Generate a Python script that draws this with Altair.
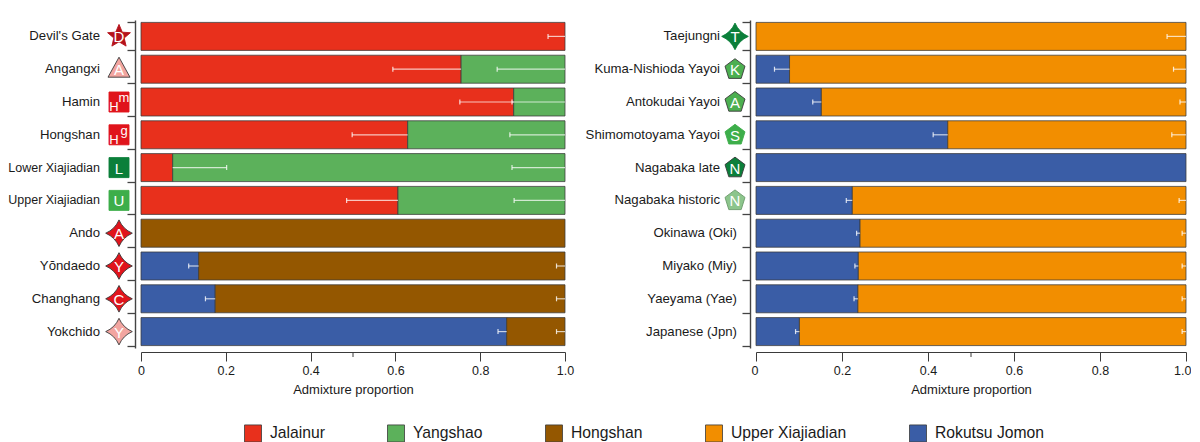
import altair as alt
import pandas as pd

FONT = "Liberation Sans"
DARK = "#3a3a3a"
INK = "#1a1a1a"

components = ["Jalainur", "Yangshao", "Hongshan", "Upper Xiajiadian", "Rokutsu Jomon"]
comp_colors = ["#E8301C", "#5CB15B", "#945700", "#F28E00", "#3A5DA6"]

# ---- left panel
left_names = ["Devil's Gate", "Angangxi", "Hamin", "Hongshan", "Lower Xiajiadian",
              "Upper Xiajiadian", "Ando", "Yŏndaedo", "Changhang", "Yokchido"]
left_jalainur = [1.0, 0.755, 0.879, 0.629, 0.0747, 0.606, 0, 0, 0, 0]
left_yangshao = [0, 0.245, 0.121, 0.371, 0.9253, 0.394, 0, 0, 0, 0]
left_jomon = [0, 0, 0, 0, 0, 0, 0, 0.136, 0.175, 0.8625]
left_hongshan = [0, 0, 0, 0, 0, 0, 1.0, 0.864, 0.825, 0.1375]
left_err_name = ["Devil's Gate", "Angangxi", "Angangxi", "Hamin", "Hamin", "Hongshan", "Hongshan",
                 "Lower Xiajiadian", "Lower Xiajiadian", "Upper Xiajiadian", "Upper Xiajiadian",
                 "Yŏndaedo", "Yŏndaedo", "Changhang", "Changhang", "Yokchido", "Yokchido"]
left_err_lo = [0.96, 0.594, 0.84, 0.752, 0.875, 0.498, 0.87, 0.0747, 0.875, 0.485, 0.88,
               0.1125, 0.98, 0.152, 0.98, 0.842, 0.98]
left_err_hi = [1.0, 0.755, 1.0, 0.879, 1.0, 0.629, 1.0, 0.202, 1.0, 0.606, 1.0,
               0.136, 1.0, 0.175, 1.0, 0.8625, 1.0]
left_err_cap = [0.96, 0.594, 0.84, 0.752, 0.875, 0.498, 0.87, 0.202, 0.875, 0.485, 0.88,
                0.1125, 0.98, 0.152, 0.98, 0.842, 0.98]

# ---- right panel
right_names = ["Taejungni", "Kuma-Nishioda Yayoi", "Antokudai Yayoi", "Shimomotoyama Yayoi",
               "Nagabaka late", "Nagabaka historic", "Okinawa (Oki)", "Miyako (Miy)",
               "Yaeyama (Yae)", "Japanese (Jpn)"]
right_jomon = [0, 0.078, 0.152, 0.446, 1.0, 0.224, 0.242, 0.238, 0.237, 0.101]
right_upper = [1.0, 0.922, 0.848, 0.554, 0, 0.776, 0.758, 0.762, 0.763, 0.899]
right_err_name = ["Taejungni", "Kuma-Nishioda Yayoi", "Kuma-Nishioda Yayoi", "Antokudai Yayoi",
                  "Antokudai Yayoi", "Shimomotoyama Yayoi", "Shimomotoyama Yayoi",
                  "Nagabaka historic", "Nagabaka historic", "Okinawa (Oki)", "Okinawa (Oki)",
                  "Miyako (Miy)", "Miyako (Miy)", "Yaeyama (Yae)", "Yaeyama (Yae)",
                  "Japanese (Jpn)", "Japanese (Jpn)"]
right_err_lo = [0.956, 0.043, 0.971, 0.132, 0.986, 0.412, 0.967, 0.21, 0.984, 0.234, 0.991,
                0.23, 0.991, 0.228, 0.991, 0.092, 0.991]
right_err_hi = [1.0, 0.078, 1.0, 0.152, 1.0, 0.446, 1.0, 0.224, 1.0, 0.242, 1.0,
                0.238, 1.0, 0.237, 1.0, 0.101, 1.0]

x_ticks = [0, 0.2, 0.4, 0.6, 0.8, 1.0]
x_minor = [0.5]

# ---- icon shapes
STAR5 = "M0,-1.2L.33,-.42L1.14,-.37L.52,.16L.71,.97L0,.54L-.71,.97L-.52,.16L-1.14,-.37L-.33,-.42Z"
STAR4 = "M0,-1.33Q.4,-.4,1.33,0Q.4,.4,0,1.33Q-.4,.4,-1.33,0Q-.4,-.4,0,-1.33Z"
TRI = "M0,-1.2L1.1,.8L-1.1,.8Z"
PENT = "M0,-1.05L1,-.3L.62,.92L-.62,.92L-1,-.3Z"
SQ = "M-1,-1L1,-1L1,1L-1,1Z"

RED, PALE, DGREEN, MGREEN, PGREEN = "#E0141C", "#F2A5A0", "#0B7F3A", "#3DAE4A", "#8CC58C"
left_icon_name = left_names
left_icon_shape = [STAR5, TRI, SQ, SQ, SQ, SQ, STAR4, STAR4, STAR4, STAR4]
left_icon_fill = ["#B5121B", PALE, RED, RED, DGREEN, MGREEN, RED, RED, RED, PALE]
left_icon_stroke = ["#B5121B", DARK, RED, RED, DGREEN, MGREEN, DARK, DARK, DARK, DARK]
left_icon_letter = ["D", "A", "", "", "L", "U", "A", "Y", "C", "Y"]
right_icon_name = right_names[:6]
right_icon_shape = [STAR4, PENT, PENT, PENT, PENT, PENT]
right_icon_fill = [DGREEN, "#4CAF50", "#4CAF50", MGREEN, DGREEN, PGREEN]
right_icon_stroke = [DGREEN, DARK, DARK, MGREEN, DARK, "#6a9a6a"]
right_icon_letter = ["T", "K", "A", "S", "N", "N"]
super_name = ["Hamin", "Hongshan"]
super_letter = ["m", "g"]


def segments(names, ordered):
    rows = []
    for i, n in enumerate(names):
        pos = 0.0
        for comp, vals in ordered:
            v = vals[i]
            if v > 0:
                rows.append({"name": n, "comp": comp, "start": pos, "end": min(pos + v, 1.0)})
                pos += v
    return pd.DataFrame(rows)


def panel(names, segs, err_name, err_lo, err_hi, err_cap, icons, label_layers, icon_x, flush):
    yaxis = alt.Axis(labels=False, tickBand="extent", offset=6, tickSize=8, tickColor="#444",
                     domainColor="#444", domainWidth=1.4, tickWidth=1.3, grid=False)
    yenc = alt.Y("name:N", sort=names, title=None, axis=yaxis,
                 scale=alt.Scale(domain=names, paddingInner=0.146, paddingOuter=0.073))
    xscale = alt.Scale(domain=[0, 1], nice=False)
    bars = alt.Chart(segs).mark_bar(stroke=DARK, strokeWidth=0.9, strokeOpacity=0.85).encode(
        x=alt.X("start:Q", scale=xscale, title="Admixture proportion",
                axis=alt.Axis(values=x_ticks, grid=False, offset=4, tickSize=9, tickColor=DARK,
                              domainColor=DARK, labelFont=FONT, labelFontSize=12.5, labelColor=INK,
                              labelFlush=flush, labelFlushOffset=5,
                              labelExpr="datum.value === 0 ? '0' : format(datum.value, '.1f')",
                              titleFont=FONT, titleFontSize=13, titleFontWeight="normal",
                              titleColor=INK, titlePadding=7, labelPadding=3)),
        x2="end:Q",
        y=yenc,
        color=alt.Color("comp:N", scale=alt.Scale(domain=components, range=comp_colors),
                        legend=alt.Legend(orient="none", legendX=103, legendY=404, direction="horizontal",
                                          columns=5, title=None, symbolType="square", symbolSize=289,
                                          symbolStrokeColor=DARK, symbolStrokeWidth=0.8, symbolOpacity=1,
                                          labelFont=FONT, labelFontSize=15.7, labelColor=INK,
                                          labelOffset=8, columnPadding=60, padding=0)),
    )
    err = pd.DataFrame({"name": err_name, "lo": err_lo, "hi": err_hi, "cap": err_cap})
    lines = alt.Chart(err).mark_rule(color="white", strokeWidth=1.2, opacity=0.72).encode(
        x=alt.X("lo:Q", scale=xscale), x2="hi:Q", y=yenc)
    caps = alt.Chart(err).mark_tick(color="white", thickness=1.2, size=5, opacity=0.8).encode(
        x=alt.X("cap:Q", scale=xscale), y=yenc)
    minor = alt.Chart(pd.DataFrame({"v": x_minor})).mark_rule(color=DARK, strokeWidth=1).encode(
        x=alt.X("v:Q", scale=xscale), y=alt.value(332), y2=alt.value(337))
    marks = alt.Chart(icons).mark_point(filled=True, size=400, opacity=1, strokeWidth=0.9).encode(
        x=alt.value(icon_x), y=yenc,
        shape=alt.Shape("shape:N", scale=None, legend=None),
        fill=alt.Fill("fill:N", scale=None, legend=None),
        stroke=alt.Stroke("stroke:N", scale=None, legend=None))
    letters = alt.Chart(icons).mark_text(font=FONT, fontSize=15, color="white", baseline="middle",
                                         dy=1).encode(x=alt.value(icon_x), y=yenc, text="letter:N")
    layers = [bars, lines, caps, minor, marks, letters]
    for df, xv, size in label_layers:
        layers.append(alt.Chart(df).mark_text(font=FONT, fontSize=size, align="right", baseline="middle",
                                              color=INK).encode(x=alt.value(xv), y=yenc, text="name:N"))
    return layers, yenc


left_segs = segments(left_names, [("Jalainur", left_jalainur), ("Yangshao", left_yangshao),
                                  ("Rokutsu Jomon", left_jomon), ("Hongshan", left_hongshan)])
right_segs = segments(right_names, [("Rokutsu Jomon", right_jomon), ("Upper Xiajiadian", right_upper)])

left_icons = pd.DataFrame({"name": left_icon_name, "shape": left_icon_shape, "fill": left_icon_fill,
                           "stroke": left_icon_stroke, "letter": left_icon_letter})
right_icons = pd.DataFrame({"name": right_icon_name, "shape": right_icon_shape, "fill": right_icon_fill,
                            "stroke": right_icon_stroke, "letter": right_icon_letter})

narrow = ["Lower Xiajiadian", "Upper Xiajiadian"]
left_labels = [
    (pd.DataFrame({"name": [n for n in left_names if n not in narrow]}), -41, 13.2),
    (pd.DataFrame({"name": narrow}), -41, 12.5),
]
right_labels = [
    (pd.DataFrame({"name": right_names[:6]}), -36, 13.2),
    (pd.DataFrame({"name": right_names[6:]}), -19, 13.2),
]

l_layers, l_y = panel(left_names, left_segs, left_err_name, left_err_lo, left_err_hi, left_err_cap,
                      left_icons, left_labels, -22, False)
r_layers, r_y = panel(right_names, right_segs, right_err_name, right_err_lo, right_err_hi, right_err_lo,
                      right_icons, right_labels, -21, True)

# superscripted Hamin / Hongshan icons
sup = pd.DataFrame({"name": super_name, "big": ["H", "H"], "small": super_letter})
l_layers.append(alt.Chart(sup).mark_text(font=FONT, fontSize=13, color="white", baseline="middle",
                                         dx=-5, dy=5).encode(x=alt.value(-22), y=l_y, text="big:N"))
l_layers.append(alt.Chart(sup).mark_text(font=FONT, fontSize=13, color="white", baseline="middle",
                                         dx=5, dy=-4).encode(x=alt.value(-22), y=l_y, text="small:N"))

left = alt.layer(*l_layers).properties(width=424, height=328)
right = alt.layer(*r_layers).properties(width=430, height=328)

chart = alt.hconcat(left, right, spacing=191, bounds="flush").resolve_scale(color="shared").properties(
    padding={"left": 0, "top": 12, "right": 0, "bottom": 0}
).configure_view(stroke=None)

chart.save("out.html", embed_options={"renderer": "svg", "actions": False})
